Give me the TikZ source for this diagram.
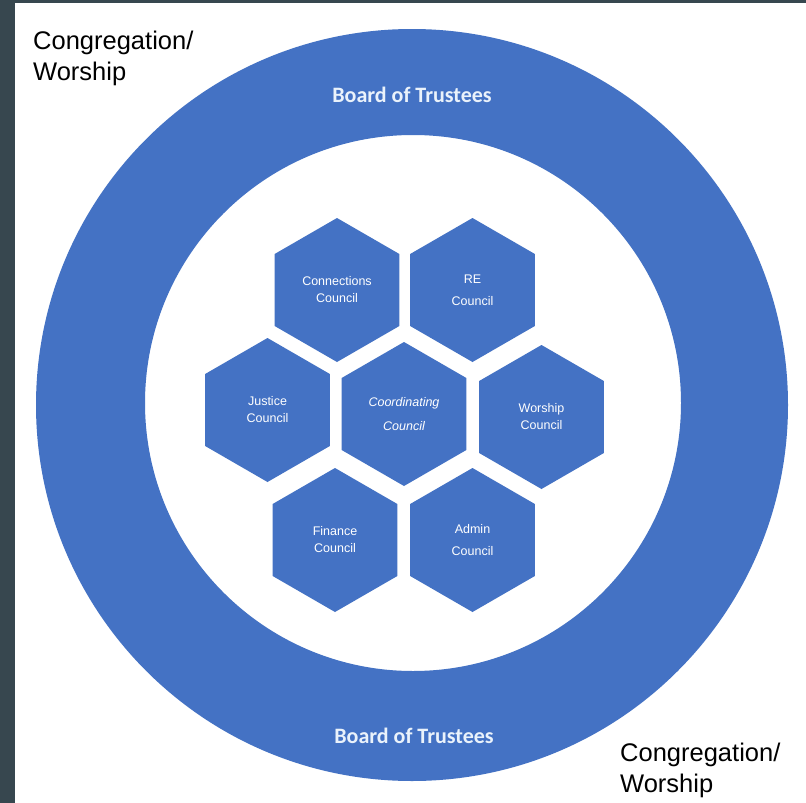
\documentclass[tikz,border=0pt]{standalone}
\usepackage{fontspec}
\setmainfont{Liberation Sans}
\newfontfamily\boardfont{Carlito}
\usepackage{tikz}
\usetikzlibrary{shapes.geometric}
\usetikzlibrary{positioning}

\definecolor{ringblue}{HTML}{4472C4}
\definecolor{framegrey}{HTML}{37474F}
\definecolor{boardtext}{HTML}{EAF2FB}

\tikzset{
  hexcell/.style={regular polygon, regular polygon sides=6, shape border rotate=30,
    fill=ringblue, minimum size=144pt, inner sep=0pt, text=white, align=center,
    font=\fontsize{12.5}{17}\selectfont},
  boardlabel/.style={text=boardtext, font=\boardfont\bfseries\fontsize{22}{26}\selectfont},
  cornerlabel/.style={align=left, inner sep=0pt, font=\fontsize{25.5}{31}\selectfont}
}

\begin{document}
\begin{tikzpicture}[x=1pt,y=-1pt]
	\useasboundingbox (0,0) rectangle (806,803);
	\fill[framegrey] (0,0) rectangle (806,803);
	\fill[white] (15,3) rectangle (806,803);
	
	% the ring
	\fill[ringblue, even odd rule] (412,405) circle[radius=376] (413,403) circle[radius=268];
	
	\node[boardlabel] (boardtop) at (412,95) {Board of Trustees};
	\node[boardlabel] (boardbot) at (414,736) {Board of Trustees};
	
	% the councils
	\node[hexcell] (conn) at (337,290) {Connections\\Council};
	\node[hexcell] (re) at (472.5,290) {RE\\[5pt]Council};
	\node[hexcell] (just) at (267.5,410) {Justice\\Council};
	\node[hexcell] (coord) at (404,414) {\itshape Coordinating\\[7pt]\itshape Council};
	\node[hexcell] (wors) at (541.5,417) {Worship\\Council};
	\node[hexcell] (fin) at (335,540) {Finance\\Council};
	\node[hexcell] (adm) at (472.5,540) {Admin\\[5pt]Council};
	
	\node[cornerlabel, anchor=base west] (congtop) at (33,80) {Congregation/\\Worship};
	\node[cornerlabel, anchor=base west] (congbot) at (620,792) {Congregation/\\Worship};
\end{tikzpicture}
\end{document}
